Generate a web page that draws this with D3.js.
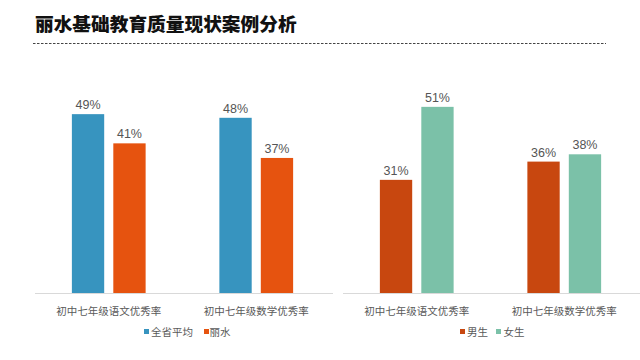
<!DOCTYPE html>
<html><head><meta charset="utf-8">
<script src="https://cdn.jsdelivr.net/npm/d3@7"></script>
<style>
html,body{margin:0;padding:0;background:#fff;}
svg{display:block;}
text{font-family:"Liberation Sans","Noto Sans CJK SC",sans-serif;}
</style></head>
<body>
<script>
const title = "丽水基础教育质量现状案例分析";
const categories = ["初中七年级语文优秀率", "初中七年级数学优秀率"];
const leftSeries = ["全省平均", "丽水"];
const leftValues = [[49, 48], [41, 37]];
const rightSeries = ["男生", "女生"];
const rightValues = [[31, 36], [51, 38]];
const leftColors = ["#3794bf", "#e6530f"];
const rightColors = ["#c8470f", "#7bc1a8"];

const W = 640, H = 360;
const svg = d3.select("body").append("svg").attr("width", W).attr("height", H);

svg.append("text").attr("x", 35).attr("y", 31)
  .attr("font-family", "Noto Sans CJK SC").attr("font-weight", 900)
  .attr("font-size", 18.7).attr("fill", "#111").text(title);
svg.append("line").attr("x1", 33).attr("x2", 606).attr("y1", 43.5).attr("y2", 43.5)
  .attr("stroke", "#444").attr("stroke-width", 1).attr("stroke-dasharray", "2.5,1.5");

const y = d3.scaleLinear().domain([0, 60]).range([293, 74]);

function panel(range, axisRange, series, values, colors, legendPos) {
  const g = svg.append("g");
  const x0 = d3.scaleBand().domain(categories).range(range).paddingInner(0.5).paddingOuter(0.25);
  const x1 = d3.scaleBand().domain(series).range([0, x0.bandwidth()]).paddingInner(0.22);
  const data = [];
  series.forEach((s, si) => categories.forEach((c, ci) => data.push({s, c, v: values[si][ci], color: colors[si]})));
  g.selectAll("rect.bar").data(data).enter().append("rect").attr("class", "bar")
    .attr("x", d => x0(d.c) + x1(d.s)).attr("width", x1.bandwidth())
    .attr("y", d => y(d.v)).attr("height", d => y(0) - y(d.v)).attr("fill", d => d.color);
  g.selectAll("text.val").data(data).enter().append("text").attr("class", "val")
    .attr("x", d => x0(d.c) + x1(d.s) + x1.bandwidth() / 2).attr("y", d => y(d.v) - 5)
    .attr("text-anchor", "middle").attr("font-size", 12.5).attr("fill", "#555")
    .text(d => d.v + "%");
  g.append("line").attr("x1", axisRange[0]).attr("x2", axisRange[1])
    .attr("y1", y(0) + 0.5).attr("y2", y(0) + 0.5).attr("stroke", "#d9d9d9").attr("stroke-width", 1);
  g.selectAll("text.cat").data(categories).enter().append("text").attr("class", "cat")
    .attr("x", d => x0(d) + x0.bandwidth() / 2).attr("y", 314.5)
    .attr("text-anchor", "middle").attr("font-family", "Noto Sans CJK SC")
    .attr("font-size", 10.5).attr("fill", "#595959").text(d => d);
  series.forEach((s, i) => {
    const lp = legendPos[i];
    g.append("rect").attr("x", lp[0]).attr("y", 329).attr("width", 5).attr("height", 5).attr("fill", colors[i]);
    g.append("text").attr("x", lp[1]).attr("y", 335.5).attr("font-family", "Noto Sans CJK SC")
      .attr("font-size", 10.5).attr("fill", "#595959").text(s);
  });
}

panel([35, 330], [35, 333], leftSeries, leftValues, leftColors, [[144, 151], [204, 209.5]]);
panel([343, 638], [343, 640], rightSeries, rightValues, rightColors, [[460, 467], [496, 503.5]]);
</script>
</body></html>
